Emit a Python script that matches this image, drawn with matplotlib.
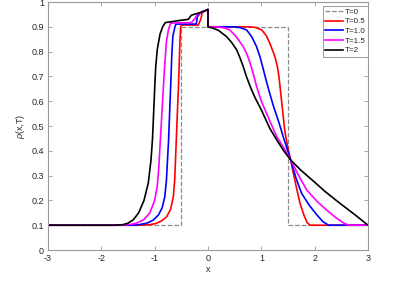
import matplotlib
matplotlib.use('Agg')
import matplotlib.pyplot as plt

plt.rcParams['font.family'] = ['Liberation Sans', 'DejaVu Sans']
plt.rcParams['mathtext.fontset'] = 'custom'
plt.rcParams['mathtext.it'] = 'Liberation Sans:italic'
plt.rcParams['axes.unicode_minus'] = False

# initial profile T=0
x0 = [-3, -0.5, -0.5, 1.5, 1.5, 3]
y0 = [0.1, 0.1, 0.9, 0.9, 0.1, 0.1]

# T=0.5
x05 = [-3, -1.3, -1.1, -0.99, -0.88, -0.775, -0.7, -0.65, -0.625, -0.61, -0.595, -0.575, -0.556,
       -0.54, -0.525, -0.515, -0.505, -0.18, -0.13, -0.11, 0, 0,
       0.79, 0.9, 1.01, 1.1, 1.16, 1.22, 1.26, 1.3, 1.33, 1.36, 1.4, 1.44, 1.5, 1.55, 1.6, 1.65,
       1.725, 1.8, 1.86, 1.91, 3]
y05 = [0.1, 0.1, 0.102, 0.106, 0.116, 0.134, 0.165, 0.215, 0.28, 0.36, 0.44, 0.55, 0.645,
       0.75, 0.85, 0.89, 0.907, 0.907, 0.934, 0.958, 0.97, 0.9,
       0.9, 0.897, 0.887, 0.862, 0.833, 0.8, 0.775, 0.74, 0.7, 0.64, 0.56, 0.48, 0.41, 0.363, 0.31, 0.26,
       0.188, 0.14, 0.11, 0.1, 0.1]

# T=1.0
x10 = [-3, -1.45, -1.3, -1.15, -1.03, -0.93, -0.86, -0.81, -0.78, -0.76, -0.74, -0.72, -0.70,
       -0.68, -0.66, -0.62, -0.60, -0.22, -0.2, -0.15, 0, 0,
       0.47, 0.6, 0.725, 0.82, 0.91, 0.98, 1.04, 1.1, 1.16, 1.22, 1.29, 1.35, 1.41, 1.48, 1.55,
       1.65, 1.756, 1.9, 2.04, 2.15, 2.26, 3]
y10 = [0.1, 0.1, 0.102, 0.108, 0.12, 0.141, 0.17, 0.215, 0.28, 0.36, 0.44, 0.55, 0.66,
       0.78, 0.86, 0.9, 0.911, 0.911, 0.94, 0.955, 0.97, 0.9,
       0.9, 0.897, 0.887, 0.86, 0.82, 0.775, 0.726, 0.676, 0.63, 0.585, 0.54, 0.5, 0.457, 0.41, 0.363,
       0.29, 0.228, 0.18, 0.142, 0.115, 0.1, 0.1]

# T=1.5
x15 = [-3, -1.6, -1.45, -1.34, -1.2, -1.09, -1.0, -0.95, -0.92, -0.9, -0.87, -0.84, -0.81,
       -0.78, -0.74, -0.70, -0.31, -0.24, -0.2, 0, 0,
       0.16, 0.3, 0.41, 0.53, 0.66, 0.73, 0.79, 0.85, 0.91, 1.0, 1.10, 1.2, 1.29, 1.44, 1.55,
       1.7, 1.85, 2.05, 2.225, 2.4, 2.55, 2.63, 3]
y15 = [0.1, 0.1, 0.103, 0.108, 0.123, 0.15, 0.2, 0.26, 0.34, 0.42, 0.53, 0.645, 0.75,
       0.84, 0.89, 0.915, 0.917, 0.934, 0.95, 0.97, 0.9,
       0.9, 0.896, 0.887, 0.86, 0.82, 0.79, 0.753, 0.71, 0.66, 0.6, 0.55, 0.5, 0.457, 0.405, 0.363,
       0.3, 0.242, 0.195, 0.161, 0.13, 0.108, 0.1, 0.1]

# T=2
x20 = [-3, -1.75, -1.6, -1.5, -1.4, -1.3, -1.2, -1.12, -1.07, -1.04, -1.02, -1.0, -0.98,
       -0.95, -0.9, -0.85, -0.8, -0.55, -0.37, -0.31, -0.15, 0, 0,
       0.1, 0.2, 0.35, 0.45, 0.54, 0.6, 0.66, 0.72, 0.79, 0.88, 1.0, 1.16, 1.3, 1.42, 1.55,
       1.75, 1.975, 2.2, 2.475, 2.75, 3]
y20 = [0.1, 0.1, 0.102, 0.108, 0.122, 0.15, 0.2, 0.27, 0.36, 0.45, 0.55, 0.65, 0.74,
       0.81, 0.87, 0.9, 0.917, 0.925, 0.93, 0.947, 0.957, 0.97, 0.9,
       0.894, 0.885, 0.86, 0.835, 0.806, 0.775, 0.74, 0.70, 0.66, 0.615, 0.565, 0.49, 0.44, 0.40, 0.363,
       0.32, 0.278, 0.235, 0.188, 0.143, 0.1]

labels = ['T=0', 'T=0.5', 'T=1.0', 'T=1.5', 'T=2']

fig = plt.figure(figsize=(4.07, 2.81), dpi=100)
ax = fig.add_axes([48/407, 31/281, 320/407, 248/281])

ax.plot(x0, y0, '--', color='#8c8c8c', lw=0.9, label=labels[0])
ax.plot(x05, y05, color='#ff0000', lw=1.2, label=labels[1])
ax.plot(x10, y10, color='#0000ff', lw=1.2, label=labels[2])
ax.plot(x15, y15, color='#ff00ff', lw=1.2, label=labels[3])
ax.plot(x20, y20, color='#000000', lw=1.2, label=labels[4])

ax.set_xlim(-3, 3)
ax.set_ylim(0, 1)
ax.set_xticks([-3, -2, -1, 0, 1, 2, 3])
ax.set_yticks([0, 0.1, 0.2, 0.3, 0.4, 0.5, 0.6, 0.7, 0.8, 0.9, 1])
ax.set_yticklabels(['0', '0.1', '0.2', '0.3', '0.4', '0.5', '0.6', '0.7', '0.8', '0.9', '1'])
ax.tick_params(direction='in', top=True, right=True, length=3, width=0.6,
               labelsize=6.5, colors='#262626', pad=3)
ax.tick_params(color='#9a9a9a')
for s in ax.spines.values():
    s.set_color('#9a9a9a')
    s.set_linewidth(0.8)

ax.set_xlabel('x', fontsize=6.5, color='#262626', labelpad=1)
ax.set_ylabel(r'$\rho$(x,T)', fontsize=6.5, color='#262626', labelpad=3)

leg = ax.legend(loc='upper right', bbox_to_anchor=(1.0, 0.985), borderaxespad=0,
                fontsize=5.8, fancybox=False, framealpha=1, edgecolor='#9a9a9a',
                handlelength=2.2, handletextpad=0.2, labelspacing=0.25,
                borderpad=0.3)
leg.get_frame().set_linewidth(0.7)
for t in leg.get_texts():
    t.set_color('#262626')

fig.savefig('out.png', dpi=100)
